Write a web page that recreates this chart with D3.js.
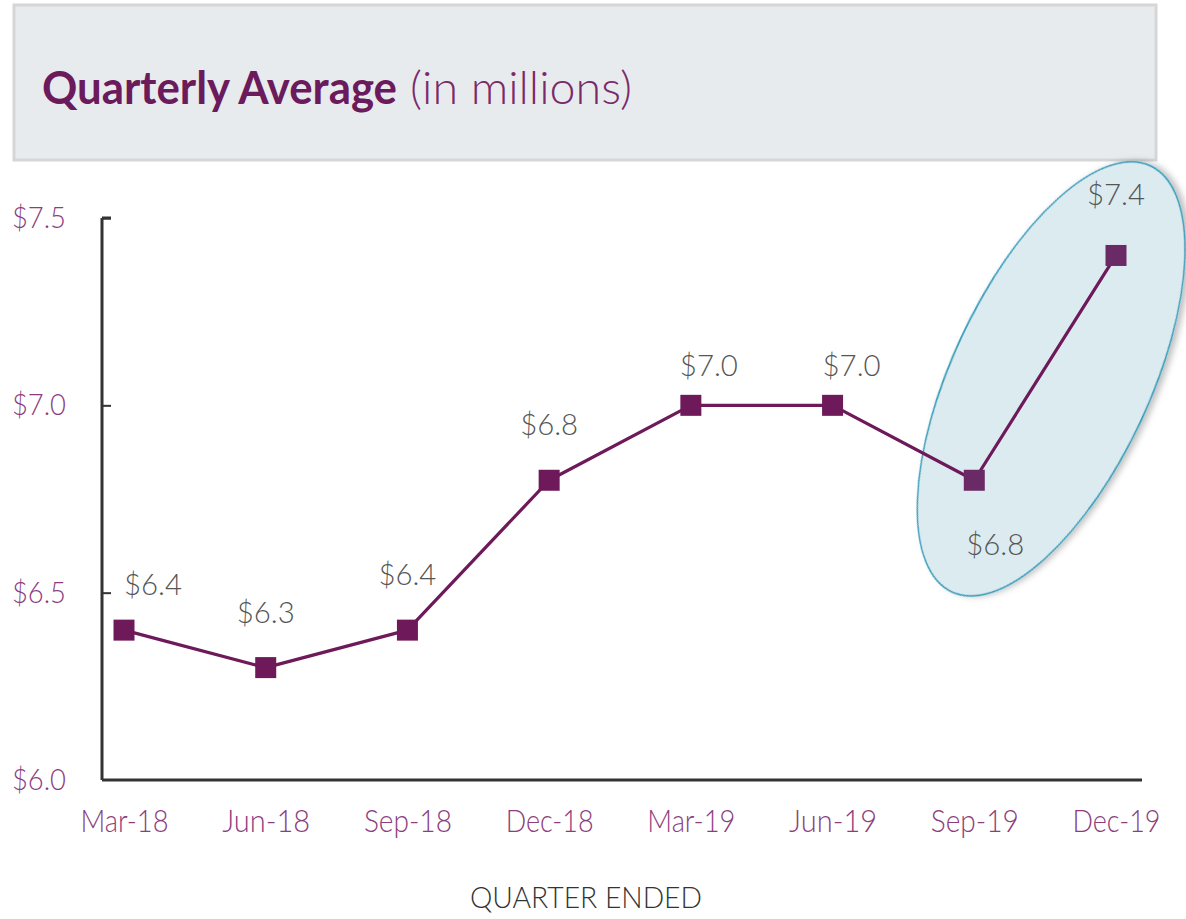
<!DOCTYPE html>
<html>
<head>
<meta charset="utf-8">
<script src="https://cdn.jsdelivr.net/npm/d3@7/dist/d3.min.js"></script>
<style>
  html, body { margin: 0; padding: 0; background: #ffffff; }
  svg { display: block; }
</style>
</head>
<body>
<svg id="chart" width="1186" height="919"></svg>
<script>
// ---- data ----
const categories = ["Mar-18", "Jun-18", "Sep-18", "Dec-18", "Mar-19", "Jun-19", "Sep-19", "Dec-19"];
const values = [6.4, 6.3, 6.4, 6.8, 7.0, 7.0, 6.8, 7.4];
const valueLabels = ["$6.4", "$6.3", "$6.4", "$6.8", "$7.0", "$7.0", "$6.8", "$7.4"];
const yTicks = [6.0, 6.5, 7.0, 7.5];
const yTickLabels = ["$6.0", "$6.5", "$7.0", "$7.5"];
const titleBold = "Quarterly Average";
const titleLight = "(in millions)";
const xTitle = "QUARTER ENDED";
// label placement (layout, in px relative to marker)
const labelDx = [29, 0, 0, 0, 18, 19, 21, 0];
const labelDy = [-46, -55, -56, -56, -40, -40, 64, -61];

const svg = d3.select("#chart");
const purple = "#6e1a5a";
const labelPurple = "#8b3d7d";
const font = "Lato, 'Open Sans', 'DejaVu Sans', sans-serif";

// title box
svg.append("rect").attr("x", 14).attr("y", 5).attr("width", 1142).attr("height", 155)
  .attr("fill", "#e8ebee").attr("stroke", "#d6d6d6").attr("stroke-width", 3);
svg.append("text").attr("x", 42).attr("y", 104)
  .attr("font-family", font).attr("font-weight", 700).attr("font-size", 46)
  .attr("fill", "#6b1a5b").attr("textLength", 355).attr("lengthAdjust", "spacingAndGlyphs")
  .text(titleBold);
svg.append("text").attr("x", 410).attr("y", 104)
  .attr("font-family", font).attr("font-weight", 300).attr("font-size", 46)
  .attr("fill", "#7a2a6a").attr("textLength", 222).attr("lengthAdjust", "spacingAndGlyphs")
  .text(titleLight);

// scales
const x = d3.scalePoint().domain(categories).range([124, 1116]);
const y = d3.scaleLinear().domain([6.0, 7.5]).range([780, 218]);

// highlight ellipse (behind the series)
const defs = svg.append("defs");
const f = defs.append("filter").attr("id", "shadow").attr("x", "-20%").attr("y", "-20%").attr("width", "140%").attr("height", "140%");
f.append("feDropShadow").attr("dx", 2).attr("dy", 4).attr("stdDeviation", 3).attr("flood-color", "#000").attr("flood-opacity", 0.25);

const cx = (x("Sep-19") + x("Dec-19")) / 2 + 6;
const cy = (y(6.8) + y(7.4)) / 2 + 11;
svg.append("ellipse")
  .attr("cx", cx).attr("cy", cy).attr("rx", 235).attr("ry", 99)
  .attr("transform", `rotate(-65 ${cx} ${cy})`)
  .attr("fill", "#dcebf0").attr("stroke", "#2f9ab8").attr("stroke-width", 1.6)
  .attr("filter", "url(#shadow)");

// y axis
const yAxis = d3.axisLeft(y).tickValues(yTicks).tickSize(-9).tickPadding(36)
  .tickFormat((d, i) => yTickLabels[i]);
const gy = svg.append("g").attr("transform", "translate(102,0)").call(yAxis);
gy.select(".domain").attr("stroke", "#333").attr("stroke-width", 3).attr("d", "M0,218H9M0,218V780");
gy.selectAll(".tick line").attr("stroke", "#333").attr("stroke-width", 2);
gy.selectAll(".tick text").attr("font-family", font).attr("font-weight", 300).attr("font-size", 30)
  .attr("fill", labelPurple).attr("dy", "0.32em")
  .attr("textLength", 54).attr("lengthAdjust", "spacingAndGlyphs");
gy.selectAll(".tick").filter(d => d === 6.0).select("line").remove();

// x axis
const xAxis = d3.axisBottom(x).tickSize(0).tickPadding(42);
const gx = svg.append("g").attr("transform", "translate(0,780)").call(xAxis);
gx.select(".domain").attr("stroke", "#333").attr("stroke-width", 3).attr("d", "M102,0H1142");
gx.selectAll(".tick text").attr("font-family", font).attr("font-weight", 300).attr("font-size", 31)
  .attr("fill", labelPurple).attr("dy", "0.32em")
  .attr("textLength", 88).attr("lengthAdjust", "spacingAndGlyphs");

// x title
svg.append("text").attr("x", 586).attr("y", 908).attr("text-anchor", "middle")
  .attr("font-family", font).attr("font-weight", 300).attr("font-size", 30).attr("fill", "#333")
  .attr("textLength", 232).attr("lengthAdjust", "spacingAndGlyphs")
  .text(xTitle);

// line
const line = d3.line().x((d, i) => x(categories[i])).y(d => y(d));
svg.append("path").datum(values).attr("d", line)
  .attr("fill", "none").attr("stroke", purple).attr("stroke-width", 3.2)
  .attr("stroke-linejoin", "round");

// markers
const ms = 21;
svg.selectAll("rect.marker").data(values).join("rect").attr("class", "marker")
  .attr("x", (d, i) => x(categories[i]) - ms / 2).attr("y", d => y(d) - ms / 2)
  .attr("width", ms).attr("height", ms)
  .attr("fill", (d, i) => i >= 6 ? "#6a2a66" : purple);

// value labels
svg.selectAll("text.vlabel").data(values).join("text").attr("class", "vlabel")
  .attr("x", (d, i) => x(categories[i]) + labelDx[i])
  .attr("y", (d, i) => y(d) + labelDy[i])
  .attr("dy", "0.35em").attr("text-anchor", "middle")
  .attr("font-family", font).attr("font-weight", 300).attr("font-size", 30).attr("fill", "#555")
  .attr("textLength", 58).attr("lengthAdjust", "spacingAndGlyphs")
  .text((d, i) => valueLabels[i]);
</script>
</body>
</html>
